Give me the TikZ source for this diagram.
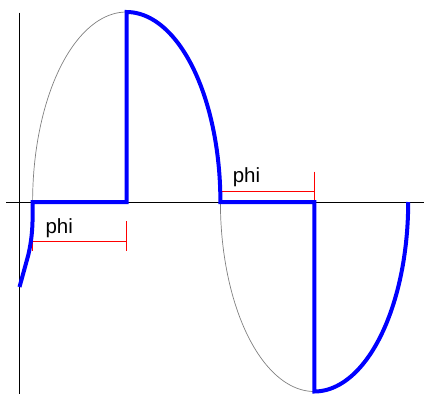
\documentclass[tikz,border=0pt]{standalone}
\usepackage{fontspec}
\setmainfont{Liberation Sans}
\begin{document}
\begin{tikzpicture}[x=1pt,y=-1pt,
  axisline/.style={black,line width=1pt},
  guide/.style={gray,line width=0.7pt},
  wave/.style={blue,line width=4pt,line join=miter},
  span/.style={red,line width=0.9pt},
  lbl/.style={font=\fontsize{20.5}{24}\selectfont,inner sep=0pt,anchor=base west}]
\useasboundingbox (0,0) rectangle (424,394);
% axes
\draw[axisline] (19.3,12.7) -- (19.3,394);
\draw[axisline] (6,202) -- (424,202);
% reference sine (half ellipses)
\draw[guide] plot[domain=180:0,samples=120] ({126.5+93.9*cos(\x)},{202-190*sin(\x)});
\draw[guide] plot[domain=180:0,samples=120] ({314.3-93.9*cos(\x)},{202+189.5*sin(\x)});
% phase spans
\draw[span] (32.6,241) -- (126.6,241);
\draw[span] (32.6,221) -- (32.6,251);
\draw[span] (126.6,221) -- (126.6,251);
\draw[span] (220.6,191.7) -- (314.3,191.7);
\draw[span] (220.6,171.7) -- (220.6,201.7);
\draw[span] (314.3,171.7) -- (314.3,201.7);
% chopped wave
\draw[wave] (19.5,287) -- (28.3,255) .. controls (31,243) and (32.6,232) .. (32.6,215)
  -- (32.6,202) -- (126.5,202) -- (126.5,12)
  -- plot[domain=90:0,samples=80] ({126.5+93.9*cos(\x)},{202-190*sin(\x)})
  -- (314.3,202) -- (314.3,391.5)
  -- plot[domain=0:90,samples=80] ({314.3+93.9*sin(\x)},{202+189.5*cos(\x)});
% labels
\node[lbl] (phiA) at (45.3,233.3) {phi};
\node[lbl] (phiB) at (232.6,182.7) {phi};
\end{tikzpicture}
\end{document}
